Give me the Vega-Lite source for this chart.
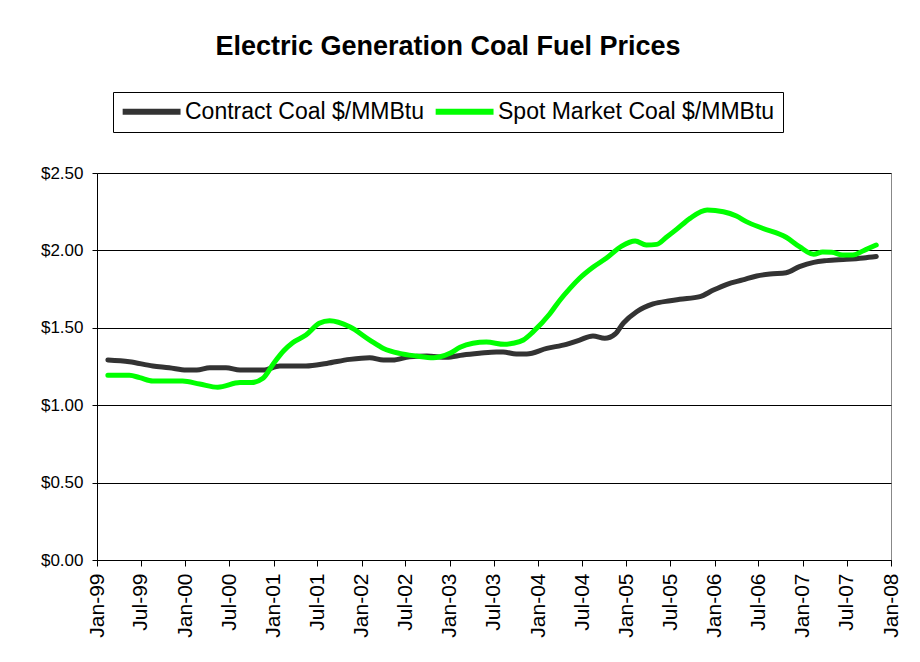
{
  "$schema": "https://vega.github.io/schema/vega-lite/v6.json",
  "autosize": "none",
  "width": 794,
  "height": 387,
  "padding": {"left": 97, "top": 173, "right": 29, "bottom": 102},
  "background": "white",
  "title": {
    "text": "Electric Generation Coal Fuel Prices",
    "font": "Liberation Sans",
    "fontSize": 27,
    "fontWeight": "bold",
    "color": "#000000",
    "anchor": "middle",
    "dx": -46,
    "offset": 31
  },
  "data": {
    "values": [
      {"date": "1999-02-15", "series": "Contract Coal $/MMBtu", "price": 1.292},
      {"date": "1999-05-15", "series": "Contract Coal $/MMBtu", "price": 1.281},
      {"date": "1999-08-20", "series": "Contract Coal $/MMBtu", "price": 1.253},
      {"date": "1999-10-27", "series": "Contract Coal $/MMBtu", "price": 1.242},
      {"date": "2000-01-06", "series": "Contract Coal $/MMBtu", "price": 1.227},
      {"date": "2000-02-18", "series": "Contract Coal $/MMBtu", "price": 1.227},
      {"date": "2000-04-12", "series": "Contract Coal $/MMBtu", "price": 1.242},
      {"date": "2000-06-18", "series": "Contract Coal $/MMBtu", "price": 1.242},
      {"date": "2000-08-15", "series": "Contract Coal $/MMBtu", "price": 1.227},
      {"date": "2000-11-18", "series": "Contract Coal $/MMBtu", "price": 1.227},
      {"date": "2001-01-27", "series": "Contract Coal $/MMBtu", "price": 1.253},
      {"date": "2001-05-15", "series": "Contract Coal $/MMBtu", "price": 1.253},
      {"date": "2001-08-09", "series": "Contract Coal $/MMBtu", "price": 1.270},
      {"date": "2001-11-12", "series": "Contract Coal $/MMBtu", "price": 1.296},
      {"date": "2002-02-03", "series": "Contract Coal $/MMBtu", "price": 1.307},
      {"date": "2002-04-01", "series": "Contract Coal $/MMBtu", "price": 1.292},
      {"date": "2002-05-09", "series": "Contract Coal $/MMBtu", "price": 1.292},
      {"date": "2002-07-18", "series": "Contract Coal $/MMBtu", "price": 1.313},
      {"date": "2002-09-27", "series": "Contract Coal $/MMBtu", "price": 1.318},
      {"date": "2002-12-18", "series": "Contract Coal $/MMBtu", "price": 1.309},
      {"date": "2003-02-24", "series": "Contract Coal $/MMBtu", "price": 1.324},
      {"date": "2003-05-03", "series": "Contract Coal $/MMBtu", "price": 1.335},
      {"date": "2003-07-12", "series": "Contract Coal $/MMBtu", "price": 1.344},
      {"date": "2003-08-09", "series": "Contract Coal $/MMBtu", "price": 1.344},
      {"date": "2003-10-03", "series": "Contract Coal $/MMBtu", "price": 1.331},
      {"date": "2003-11-15", "series": "Contract Coal $/MMBtu", "price": 1.331},
      {"date": "2004-02-06", "series": "Contract Coal $/MMBtu", "price": 1.367},
      {"date": "2004-04-27", "series": "Contract Coal $/MMBtu", "price": 1.393},
      {"date": "2004-06-21", "series": "Contract Coal $/MMBtu", "price": 1.421},
      {"date": "2004-08-15", "series": "Contract Coal $/MMBtu", "price": 1.447},
      {"date": "2004-10-03", "series": "Contract Coal $/MMBtu", "price": 1.432},
      {"date": "2004-11-15", "series": "Contract Coal $/MMBtu", "price": 1.460},
      {"date": "2004-12-18", "series": "Contract Coal $/MMBtu", "price": 1.529},
      {"date": "2005-02-12", "series": "Contract Coal $/MMBtu", "price": 1.604},
      {"date": "2005-04-21", "series": "Contract Coal $/MMBtu", "price": 1.654},
      {"date": "2005-07-01", "series": "Contract Coal $/MMBtu", "price": 1.675},
      {"date": "2005-08-09", "series": "Contract Coal $/MMBtu", "price": 1.684},
      {"date": "2005-11-01", "series": "Contract Coal $/MMBtu", "price": 1.701},
      {"date": "2005-12-27", "series": "Contract Coal $/MMBtu", "price": 1.744},
      {"date": "2006-02-21", "series": "Contract Coal $/MMBtu", "price": 1.781},
      {"date": "2006-04-27", "series": "Contract Coal $/MMBtu", "price": 1.809},
      {"date": "2006-06-24", "series": "Contract Coal $/MMBtu", "price": 1.835},
      {"date": "2006-08-18", "series": "Contract Coal $/MMBtu", "price": 1.848},
      {"date": "2006-10-24", "series": "Contract Coal $/MMBtu", "price": 1.856},
      {"date": "2006-12-18", "series": "Contract Coal $/MMBtu", "price": 1.895},
      {"date": "2007-02-15", "series": "Contract Coal $/MMBtu", "price": 1.923},
      {"date": "2007-04-09", "series": "Contract Coal $/MMBtu", "price": 1.934},
      {"date": "2007-07-01", "series": "Contract Coal $/MMBtu", "price": 1.942},
      {"date": "2007-09-09", "series": "Contract Coal $/MMBtu", "price": 1.951},
      {"date": "2007-11-01", "series": "Contract Coal $/MMBtu", "price": 1.960},
      {"date": "1999-02-15", "series": "Spot Market Coal $/MMBtu", "price": 1.193},
      {"date": "1999-05-15", "series": "Spot Market Coal $/MMBtu", "price": 1.193},
      {"date": "1999-06-27", "series": "Spot Market Coal $/MMBtu", "price": 1.178},
      {"date": "1999-08-20", "series": "Spot Market Coal $/MMBtu", "price": 1.156},
      {"date": "1999-12-21", "series": "Spot Market Coal $/MMBtu", "price": 1.156},
      {"date": "2000-03-01", "series": "Spot Market Coal $/MMBtu", "price": 1.137},
      {"date": "2000-05-15", "series": "Spot Market Coal $/MMBtu", "price": 1.116},
      {"date": "2000-08-15", "series": "Spot Market Coal $/MMBtu", "price": 1.146},
      {"date": "2000-10-01", "series": "Spot Market Coal $/MMBtu", "price": 1.146},
      {"date": "2000-11-18", "series": "Spot Market Coal $/MMBtu", "price": 1.174},
      {"date": "2001-01-01", "series": "Spot Market Coal $/MMBtu", "price": 1.270},
      {"date": "2001-02-12", "series": "Spot Market Coal $/MMBtu", "price": 1.352},
      {"date": "2001-03-21", "series": "Spot Market Coal $/MMBtu", "price": 1.404},
      {"date": "2001-05-15", "series": "Spot Market Coal $/MMBtu", "price": 1.453},
      {"date": "2001-07-09", "series": "Spot Market Coal $/MMBtu", "price": 1.529},
      {"date": "2001-08-21", "series": "Spot Market Coal $/MMBtu", "price": 1.546},
      {"date": "2001-11-12", "series": "Spot Market Coal $/MMBtu", "price": 1.507},
      {"date": "2002-02-03", "series": "Spot Market Coal $/MMBtu", "price": 1.421},
      {"date": "2002-04-01", "series": "Spot Market Coal $/MMBtu", "price": 1.367},
      {"date": "2002-06-06", "series": "Spot Market Coal $/MMBtu", "price": 1.335},
      {"date": "2002-08-15", "series": "Spot Market Coal $/MMBtu", "price": 1.318},
      {"date": "2002-10-24", "series": "Spot Market Coal $/MMBtu", "price": 1.307},
      {"date": "2002-11-21", "series": "Spot Market Coal $/MMBtu", "price": 1.313},
      {"date": "2003-01-01", "series": "Spot Market Coal $/MMBtu", "price": 1.335},
      {"date": "2003-02-12", "series": "Spot Market Coal $/MMBtu", "price": 1.374},
      {"date": "2003-04-06", "series": "Spot Market Coal $/MMBtu", "price": 1.400},
      {"date": "2003-06-01", "series": "Spot Market Coal $/MMBtu", "price": 1.408},
      {"date": "2003-08-15", "series": "Spot Market Coal $/MMBtu", "price": 1.393},
      {"date": "2003-09-18", "series": "Spot Market Coal $/MMBtu", "price": 1.400},
      {"date": "2003-11-01", "series": "Spot Market Coal $/MMBtu", "price": 1.421},
      {"date": "2003-12-12", "series": "Spot Market Coal $/MMBtu", "price": 1.475},
      {"date": "2004-02-18", "series": "Spot Market Coal $/MMBtu", "price": 1.589},
      {"date": "2004-04-01", "series": "Spot Market Coal $/MMBtu", "price": 1.680},
      {"date": "2004-05-12", "series": "Spot Market Coal $/MMBtu", "price": 1.755},
      {"date": "2004-06-21", "series": "Spot Market Coal $/MMBtu", "price": 1.820},
      {"date": "2004-08-15", "series": "Spot Market Coal $/MMBtu", "price": 1.891},
      {"date": "2004-10-09", "series": "Spot Market Coal $/MMBtu", "price": 1.949},
      {"date": "2004-12-12", "series": "Spot Market Coal $/MMBtu", "price": 2.028},
      {"date": "2005-02-06", "series": "Spot Market Coal $/MMBtu", "price": 2.061},
      {"date": "2005-03-24", "series": "Spot Market Coal $/MMBtu", "price": 2.035},
      {"date": "2005-05-06", "series": "Spot Market Coal $/MMBtu", "price": 2.039},
      {"date": "2005-06-15", "series": "Spot Market Coal $/MMBtu", "price": 2.085},
      {"date": "2005-07-27", "series": "Spot Market Coal $/MMBtu", "price": 2.136},
      {"date": "2005-09-21", "series": "Spot Market Coal $/MMBtu", "price": 2.207},
      {"date": "2005-12-01", "series": "Spot Market Coal $/MMBtu", "price": 2.261},
      {"date": "2006-02-06", "series": "Spot Market Coal $/MMBtu", "price": 2.250},
      {"date": "2006-04-01", "series": "Spot Market Coal $/MMBtu", "price": 2.222},
      {"date": "2006-05-12", "series": "Spot Market Coal $/MMBtu", "price": 2.186},
      {"date": "2006-07-18", "series": "Spot Market Coal $/MMBtu", "price": 2.143},
      {"date": "2006-10-24", "series": "Spot Market Coal $/MMBtu", "price": 2.085},
      {"date": "2006-12-18", "series": "Spot Market Coal $/MMBtu", "price": 2.024},
      {"date": "2007-02-15", "series": "Spot Market Coal $/MMBtu", "price": 1.975},
      {"date": "2007-03-24", "series": "Spot Market Coal $/MMBtu", "price": 1.990},
      {"date": "2007-05-01", "series": "Spot Market Coal $/MMBtu", "price": 1.988},
      {"date": "2007-06-15", "series": "Spot Market Coal $/MMBtu", "price": 1.970},
      {"date": "2007-07-27", "series": "Spot Market Coal $/MMBtu", "price": 1.970},
      {"date": "2007-09-09", "series": "Spot Market Coal $/MMBtu", "price": 1.998},
      {"date": "2007-11-01", "series": "Spot Market Coal $/MMBtu", "price": 2.035}
    ]
  },
  "mark": {"type": "line", "strokeWidth": 5, "strokeCap": "round", "strokeJoin": "round", "interpolate": "monotone"},
  "encoding": {
    "x": {
      "field": "date",
      "type": "temporal",
      "scale": {"type": "utc", "domain": ["1999-01-01", "2008-01-01"], "nice": false},
      "axis": {
        "title": null,
        "format": "%b-%y",
        "tickCount": {"interval": "month", "step": 6},
        "labelAngle": -90,
        "labelAlign": "right",
        "labelBaseline": "middle",
        "labelFont": "Liberation Sans",
        "labelFontSize": 21,
        "labelColor": "#000000",
        "labelPadding": 7,
        "labelOverlap": false,
        "labelFlush": false,
        "tickSize": 6,
        "tickColor": "#000000",
        "domainColor": "#000000",
        "grid": false
      }
    },
    "y": {
      "field": "price",
      "type": "quantitative",
      "scale": {"domain": [0, 2.5], "nice": false, "zero": true},
      "axis": {
        "title": null,
        "values": [0, 0.5, 1, 1.5, 2, 2.5],
        "format": "$.2f",
        "labelFont": "Liberation Sans",
        "labelFontSize": 17,
        "labelColor": "#000000",
        "labelPadding": 9,
        "tickSize": 5,
        "tickColor": "#000000",
        "domainColor": "#000000",
        "grid": true,
        "gridColor": "#000000",
        "gridWidth": 1
      }
    },
    "color": {
      "field": "series",
      "type": "nominal",
      "scale": {"domain": ["Contract Coal $/MMBtu", "Spot Market Coal $/MMBtu"], "range": ["#333333", "#00ff00"]},
      "legend": {
        "title": null,
        "orient": "none",
        "legendX": 16,
        "legendY": -81,
        "direction": "horizontal",
        "symbolType": "M-1.7,0H8.3",
        "symbolSize": 134,
        "symbolStrokeWidth": 6,
        "labelFont": "Liberation Sans",
        "labelFontSize": 23,
        "labelLimit": 500,
        "labelColor": "#000000",
        "labelOffset": 41,
        "columnPadding": -2,
        "padding": 8,
        "strokeColor": "#000000",
        "fillColor": "#ffffff"
      }
    }
  },
  "config": {
    "view": {"stroke": "#888888", "strokeWidth": 1}
  }
}
